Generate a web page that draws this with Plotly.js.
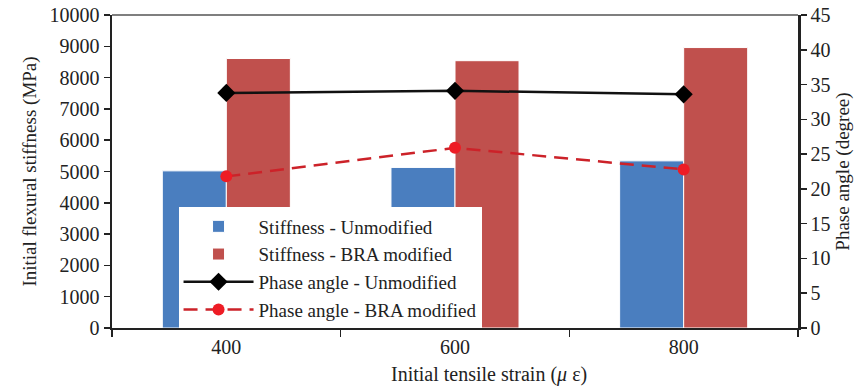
<!DOCTYPE html>
<html>
<head>
<meta charset="utf-8">
<script src="https://cdn.plot.ly/plotly-3.0.1.min.js"></script>
<style>html,body{margin:0;padding:0;background:#fff;}#chart{width:863px;height:390px;}</style>
</head>
<body>
<div id="chart"></div>
<script>
const strains = ['400', '600', '800'];
const stiffnessUnmodified = [5020, 5130, 5340];
const stiffnessBRA = [8610, 8540, 8960];
const phaseUnmodified = [33.8, 34.1, 33.6];
const phaseBRA = [21.8, 25.9, 22.8];

const serif = 'Liberation Serif';

const traces = [
  {type: 'bar', name: 'Stiffness - Unmodified', x: strains, y: stiffnessUnmodified,
   marker: {color: '#4a7ebf', line: {color: '#ffffff', width: 1}}},
  {type: 'bar', name: 'Stiffness - BRA modified', x: strains, y: stiffnessBRA,
   marker: {color: '#c0504d', line: {color: '#ffffff', width: 1}}},
  {type: 'scatter', mode: 'lines+markers', name: 'Phase angle - Unmodified', x: strains, y: phaseUnmodified,
   yaxis: 'y2', line: {color: '#111111', width: 2.5}, marker: {symbol: 'diamond', size: 14, color: '#000000'}},
  {type: 'scatter', mode: 'lines+markers', name: 'Phase angle - BRA modified', x: strains, y: phaseBRA,
   yaxis: 'y2', line: {color: '#cc2229', width: 2.5, dash: '14px,8px'}, marker: {symbol: 'circle', size: 12, color: '#ee1c25'}}
];

const tf = {family: serif, size: 20, color: '#222222'};
const titf = {family: serif, size: 19, color: '#222222'};
const layout = {
  width: 863, height: 390,
  margin: {l: 112, r: 65, t: 15, b: 62},
  paper_bgcolor: '#ffffff', plot_bgcolor: '#ffffff',
  font: tf,
  barmode: 'group', bargap: 0.44, bargroupgap: 0,
  showlegend: true,
  legend: {x: 0.097, y: 0.385, xanchor: 'left', yanchor: 'top', bgcolor: '#ffffff', borderwidth: 0,
           itemwidth: 70, font: {family: serif, size: 19, color: '#222222'}, traceorder: 'normal', tracegroupgap: 0},
  xaxis: {type: 'category', tickson: 'boundaries', ticks: 'outside', ticklen: 7, tickwidth: 1.5, tickcolor: '#222',
          showline: true, linecolor: '#222222', linewidth: 2, showgrid: false, zeroline: false, tickfont: tf},
  yaxis: {range: [0, 10000], dtick: 1000, tickformat: 'd', ticks: 'outside', ticklen: 6, tickwidth: 1.5, tickcolor: '#222',
          showline: true, linecolor: '#222222', linewidth: 2.5, showgrid: false, zeroline: false, tickfont: tf,
          title: {text: 'Initial flexural stiffness (MPa)', font: titf, standoff: 8}},
  yaxis2: {range: [0, 45], dtick: 5, overlaying: 'y', side: 'right', ticks: 'outside', ticklen: 6, tickwidth: 1.5, tickcolor: '#222',
           showline: true, linecolor: '#222222', linewidth: 2.5, showgrid: false, zeroline: false, tickfont: tf,
           title: {text: 'Phase angle (degree)', font: titf, standoff: 6}},
  annotations: [{text: 'Initial tensile strain (<i>μ</i> ε)', xref: 'paper', yref: 'paper', x: 0.55, y: -0.15,
                 xanchor: 'center', yanchor: 'middle', showarrow: false, font: {family: serif, size: 20, color: '#222222'}}],
  shapes: [{type: 'line', xref: 'paper', yref: 'paper', x0: 0, x1: 1, y0: 1, y1: 1, line: {color: '#555555', width: 1.5}}]
};

Plotly.newPlot('chart', traces, layout, {displayModeBar: false, staticPlot: true});
</script>
</body>
</html>
